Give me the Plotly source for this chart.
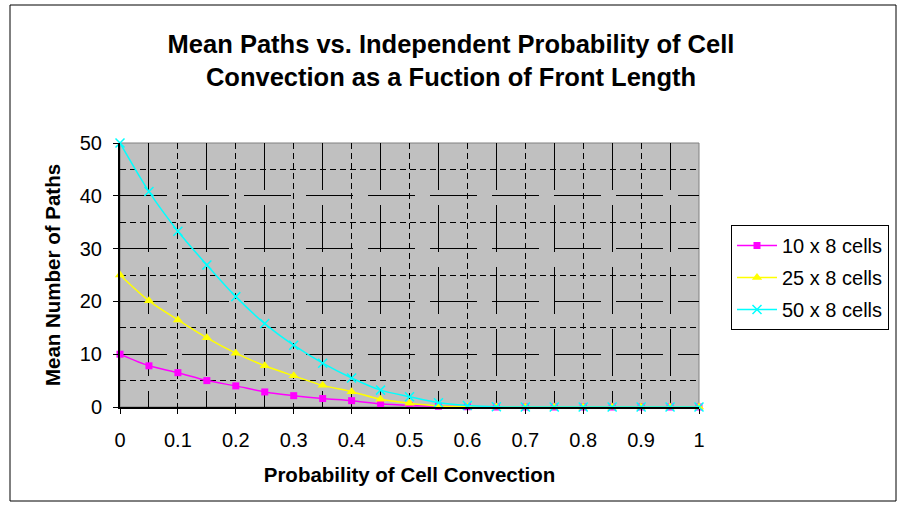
import plotly.graph_objects as go

# ---- data ----
prob = [0.0, 0.05, 0.1, 0.15, 0.2, 0.25, 0.3, 0.35, 0.4, 0.45, 0.5,
        0.55, 0.6, 0.65, 0.7, 0.75, 0.8, 0.85, 0.9, 0.95, 1.0]
paths_10x8 = [10.0, 7.8, 6.5, 5.0, 4.0, 2.85, 2.15, 1.6, 1.2, 0.6, 0.3,
              0.15, 0.05, 0, 0, 0, 0, 0, 0, 0, 0]
paths_25x8 = [25.0, 20.1, 16.5, 13.1, 10.2, 7.8, 5.9, 4.1, 2.9, 1.45, 0.7,
              0.2, 0.05, 0, 0, 0, 0, 0, 0, 0, 0]
paths_50x8 = [50.0, 40.8, 33.3, 26.9, 20.9, 15.8, 11.7, 8.3, 5.5, 3.2, 1.95,
              0.8, 0.3, 0.05, 0, 0, 0, 0, 0, 0, 0]
series_names = ["10 x 8 cells", "25 x 8 cells", "50 x 8 cells"]

title_text = ("Mean Paths vs. Independent Probability of Cell<br>"
              "Convection as a Fuction of Front Length")
x_title = "Probability of Cell Convection"
y_title = "Mean Number of Paths"

FONT = "Arial, Liberation Sans, sans-serif"

fig = go.Figure()

fig.add_trace(go.Scatter(
    x=prob, y=paths_10x8, name=series_names[0], legendgroup="a",
    mode="lines+markers", line=dict(color="#FF00FF", width=1.5, shape="spline", smoothing=0.8),
    marker=dict(symbol="square", size=7, color="#FF00FF"), cliponaxis=False))
fig.add_trace(go.Scatter(
    x=prob, y=paths_25x8, name=series_names[1], legendgroup="b",
    mode="lines+markers", line=dict(color="#FFFF00", width=1.5, shape="spline", smoothing=0.8),
    marker=dict(symbol="triangle-up", size=9, color="#FFFF00"), cliponaxis=False))
fig.add_trace(go.Scatter(
    x=prob, y=paths_50x8, name=series_names[2], legendgroup="c",
    mode="lines+markers", line=dict(color="#00FFFF", width=1.5, shape="spline", smoothing=0.8),
    marker=dict(symbol="x-thin", size=9, color="#00FFFF",
                line=dict(color="#00FFFF", width=1.5)), cliponaxis=False))

L, R, T, B = 120, 203, 143, 99
W, H = 902, 506
pw, ph = W - L - R, H - T - B

fig.update_layout(
    width=W, height=H,
    margin=dict(l=L, r=R, t=T, b=B, pad=0),
    paper_bgcolor="white", plot_bgcolor="#C0C0C0",
    font=dict(family=FONT, size=19, color="black"),
    title=dict(text="<b>" + title_text + "</b>", x=0.5, xref="container", xanchor="center",
               y=1 - 53 / H, yref="container", yanchor="middle",
               font=dict(family=FONT, size=25.5, color="black")),
    legend=dict(x=(731 - L) / pw, xanchor="left", y=(H - B - 225) / ph, yanchor="top",
                bgcolor="white", bordercolor="black", borderwidth=1,
                font=dict(family=FONT, size=20, color="black"),
                itemwidth=40, tracegroupgap=3),
    showlegend=True,
)

fig.update_xaxes(
    range=[0, 1], dtick=0.1, tick0=0,
    ticks="outside", ticklen=5, tickcolor="black", tickwidth=1,
    tickfont=dict(size=20), ticklabelstandoff=9,
    showline=True, linecolor="black", linewidth=1.5,
    showgrid=True, gridcolor="black", gridwidth=1, griddash="6px,4px",
    minor=dict(dtick=0.05, tick0=0, showgrid=True, gridcolor="black", gridwidth=1,
               griddash="47px,15px"),
    zeroline=False,
    title=dict(text="<b>" + x_title + "</b>", font=dict(size=20.5), standoff=18),
)
fig.update_yaxes(
    range=[0, 50], dtick=10, tick0=0,
    ticks="outside", ticklen=5, tickcolor="black", tickwidth=1,
    tickfont=dict(size=20), ticklabelstandoff=7,
    showline=True, linecolor="black", linewidth=2,
    showgrid=True, gridcolor="black", gridwidth=1, griddash="47px,15px",
    minor=dict(dtick=5, tick0=0, showgrid=True, gridcolor="black", gridwidth=1,
               griddash="6px,4px"),
    zeroline=False,
    title=dict(text="<b>" + y_title + "</b>", font=dict(size=20.5), standoff=14),
)

# plot-area border (gray) and outer chart border (black)
fig.add_shape(type="rect", xref="paper", yref="paper", x0=0, x1=1, y0=0, y1=1,
              line=dict(color="#808080", width=1), layer="below")
fig.add_shape(type="rect", xref="paper", yref="paper",
              x0=(10 - L) / pw, x1=(896 - L) / pw,
              y0=(H - B - 501) / ph, y1=(H - B - 5) / ph,
              line=dict(color="black", width=1), layer="below")

fig.write_html("out.html")
